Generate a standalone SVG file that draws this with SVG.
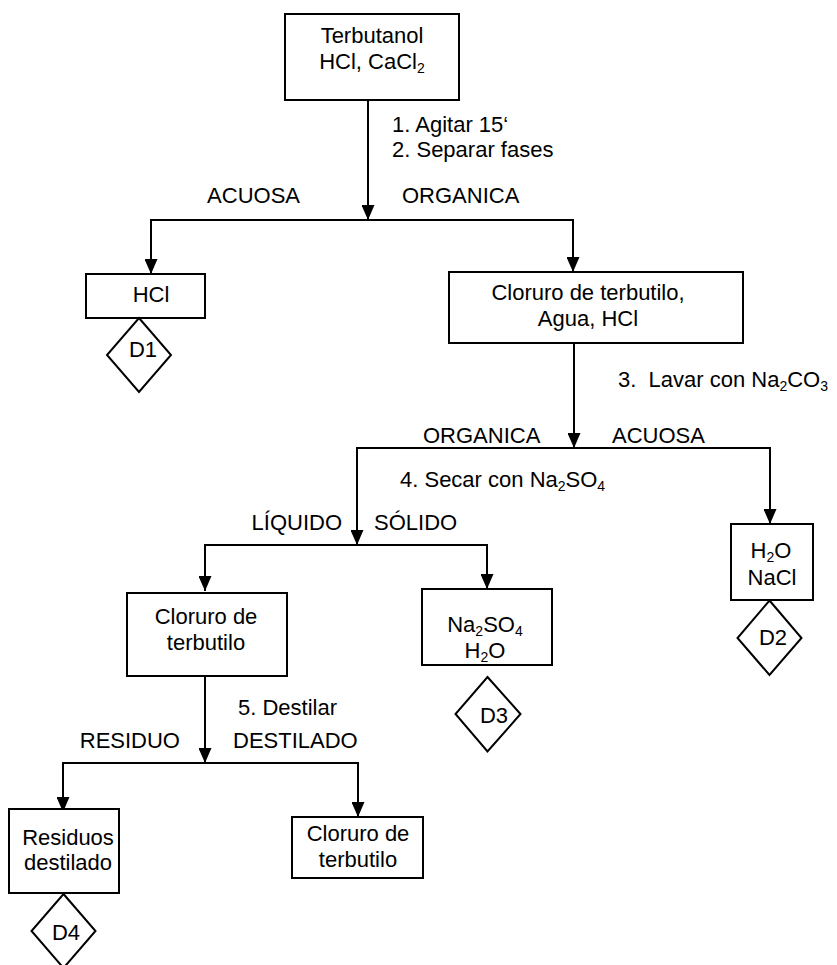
<svg xmlns="http://www.w3.org/2000/svg" width="837" height="965" viewBox="0 0 837 965">
<style>
  text { font-family: "Liberation Sans", Arial, sans-serif; font-size: 22px; fill: #000; }
  .c { text-anchor: middle; }
  .e { text-anchor: end; }
  .sub { font-size: 14px; }
  .box { fill: #fff; stroke: #000; stroke-width: 2; }
  .con { fill: none; stroke: #000; stroke-width: 2; marker-end: url(#arr); }
</style>
<defs>
  <marker id="arr" viewBox="0 0 15 13" refX="15" refY="6.5" markerWidth="15" markerHeight="13" orient="auto" markerUnits="userSpaceOnUse">
    <path d="M0,0 L15,6.5 L0,13 z" fill="#000"/>
  </marker>
</defs>
<rect width="837" height="965" fill="#fff"/>

<g id="connectors">
  <path class="con" d="M368,100 V220"/>
  <path class="con" d="M368,220 H151 V274"/>
  <path class="con" d="M368,220 H573 V272"/>
  <path class="con" d="M574,343 V448"/>
  <path class="con" d="M574,448 H357 V545"/>
  <path class="con" d="M574,448 H770 V524"/>
  <path class="con" d="M357,545 H205 V591"/>
  <path class="con" d="M357,545 H487 V589"/>
  <path class="con" d="M205,676 V763"/>
  <path class="con" d="M205,763 H63 V812"/>
  <path class="con" d="M205,763 H358 V817"/>
</g>

<g id="labels">
  <text x="392" y="132">1. Agitar 15&#8216;</text>
  <text x="392" y="157">2. Separar fases</text>
  <text class="e" x="300" y="203">ACUOSA</text>
  <text x="402" y="203">ORGANICA</text>
  <text x="618" y="387" xml:space="preserve">3.  Lavar con Na<tspan class="sub" dy="4">2</tspan><tspan dy="-4">CO</tspan><tspan class="sub" dy="4">3</tspan></text>
  <text x="423" y="443">ORGANICA</text>
  <text x="612" y="443">ACUOSA</text>
  <text x="400" y="487">4. Secar con Na<tspan class="sub" dy="4">2</tspan><tspan dy="-4">SO</tspan><tspan class="sub" dy="4">4</tspan></text>
  <text class="e" x="342" y="530">LÍQUIDO</text>
  <text x="374" y="530">SÓLIDO</text>
  <text x="238" y="715">5. Destilar</text>
  <text class="e" x="180" y="748">RESIDUO</text>
  <text x="233" y="748">DESTILADO</text>
</g>

<g id="n-terbutanol">
  <rect class="box" x="285" y="14" width="174" height="86"/>
  <text class="c" x="372" y="43">Terbutanol</text>
  <text class="c" x="372" y="69">HCl, CaCl<tspan class="sub" dy="4">2</tspan></text>
</g>

<g id="n-hcl">
  <rect class="box" x="86" y="274" width="119" height="44"/>
  <text class="c" x="151" y="302">HCl</text>
</g>

<g id="n-d1">
  <polygon class="box" points="139,318 171,355 139,392 107,355"/>
  <text class="c" x="143" y="357">D1</text>
</g>

<g id="n-cloruro1">
  <rect class="box" x="449" y="272" width="294" height="71"/>
  <text class="c" x="588" y="300">Cloruro de terbutilo,</text>
  <text class="c" x="588" y="326">Agua, HCl</text>
</g>

<g id="n-h2o-nacl">
  <rect class="box" x="731" y="524" width="82" height="76"/>
  <text class="c" x="771" y="558">H<tspan class="sub" dy="4">2</tspan><tspan dy="-4">O</tspan></text>
  <text class="c" x="772" y="585">NaCl</text>
</g>

<g id="n-d2">
  <polygon class="box" points="769.5,600.5 801.5,638 769.5,675 737.5,638"/>
  <text class="c" x="773" y="645">D2</text>
</g>

<g id="n-cloruro2">
  <rect class="box" x="127" y="593" width="160" height="83"/>
  <text class="c" x="206" y="624">Cloruro de</text>
  <text class="c" x="206" y="650">terbutilo</text>
</g>

<g id="n-na2so4">
  <rect class="box" x="422" y="589" width="130" height="76"/>
  <text class="c" x="485" y="632">Na<tspan class="sub" dy="4">2</tspan><tspan dy="-4">SO</tspan><tspan class="sub" dy="4">4</tspan></text>
  <text class="c" x="485" y="658">H<tspan class="sub" dy="4">2</tspan><tspan dy="-4">O</tspan></text>
</g>

<g id="n-d3">
  <polygon class="box" points="487.5,677 520.5,714 487.5,751.5 455.5,714"/>
  <text class="c" x="494" y="723">D3</text>
</g>

<g id="n-residuos">
  <rect class="box" x="9" y="809" width="110" height="84"/>
  <text class="c" x="68" y="845">Residuos</text>
  <text class="c" x="68" y="870">destilado</text>
</g>

<g id="n-d4">
  <polygon class="box" points="63.5,894 95.5,931 63.5,968 31.5,931"/>
  <text class="c" x="66" y="940">D4</text>
</g>

<g id="n-cloruro3">
  <rect class="box" x="292" y="817" width="131" height="61"/>
  <text class="c" x="358" y="841">Cloruro de</text>
  <text class="c" x="358" y="867">terbutilo</text>
</g>
</svg>
